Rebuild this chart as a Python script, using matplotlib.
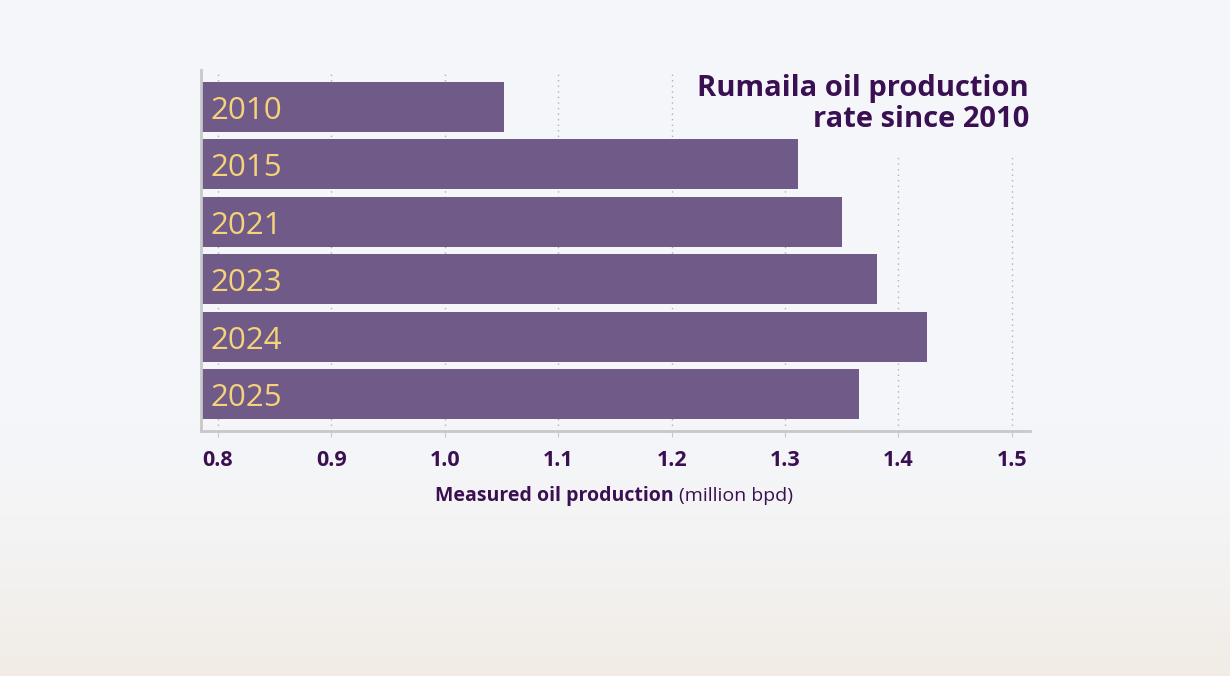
import numpy as np
import matplotlib.pyplot as plt

# values
years = ["2010", "2015", "2021", "2023", "2024", "2025"]
production = [1.052, 1.311, 1.350, 1.381, 1.425, 1.365]
ticks = [0.8, 0.9, 1.0, 1.1, 1.2, 1.3, 1.4, 1.5]

bar_color = "#6f5a88"
label_color = "#f6d27a"
text_color = "#3a1052"
bg_color = "#f5f6fa"

plt.rcParams['font.family'] = ['Open Sans', 'DejaVu Sans']

fig = plt.figure(figsize=(12.3, 6.76), dpi=100)
fig.patch.set_facecolor(bg_color)

# faded background: light sky fading into a sandy ground
bg = fig.add_axes([0, 0, 1, 1], zorder=-10)
grad = np.linspace(0, 1, 256).reshape(-1, 1)
sky = np.array([0.960, 0.966, 0.980])
ground = np.array([0.945, 0.925, 0.895])
w = np.clip((grad - 0.55) / 0.45, 0, 1) ** 2
img = sky * (1 - w) + ground * w
bg.imshow(img.reshape(256, 1, 3), aspect="auto", extent=[0, 1, 0, 1], origin="upper")
bg.set_axis_off()

ax = fig.add_axes([0.1634, 0.3624, 0.674, 0.534])
ax.set_facecolor("none")

ypos = np.arange(len(years))
left = 0.785
ax.barh(ypos, [p - left for p in production], left=left, height=0.87,
        color=bar_color, zorder=2)
for y, yr in zip(ypos, years):
    ax.text(left + 0.008, y + 0.07, yr, color=label_color, fontsize=22.5,
            va="center", ha="left", zorder=3)

ax.set_xlim(left, 1.516)
ax.set_ylim(len(years) - 0.355, -0.645)
ax.set_xticks(ticks)
ax.set_xticklabels([f"{t:.1f}" for t in ticks], fontsize=15.5, fontweight="bold",
                   color=text_color)
ax.set_yticks([])
ax.tick_params(axis="x", length=4, color="#c8c8c8", pad=10)
ax.grid(axis="x", linestyle=(0, (1, 3)), color="#b0b0b8", linewidth=1, zorder=0)
ax.set_axisbelow(True)
for s in ["top", "right"]:
    ax.spines[s].set_visible(False)
for s in ["left", "bottom"]:
    ax.spines[s].set_color("#c8c8c8")
    ax.spines[s].set_linewidth(2)

# title sits above the gridlines but below the bars
ax.text(0.8365, 0.846, "Rumaila oil production\nrate since 2010", ha="right", va="center",
        fontsize=21, fontweight="bold", color=text_color, linespacing=1.1,
        transform=fig.transFigure, zorder=1.5,
        bbox=dict(facecolor=bg_color, edgecolor="none", pad=14))

# x-axis label, bold part plus regular unit
fig.text(0.552, 0.267, "Measured oil production ", ha="right", va="center",
         fontsize=14, fontweight="bold", color=text_color)
fig.text(0.552, 0.267, "(million bpd)", ha="left", va="center",
         fontsize=14, color=text_color)

fig.savefig("out.png", dpi=100, facecolor=fig.get_facecolor())
